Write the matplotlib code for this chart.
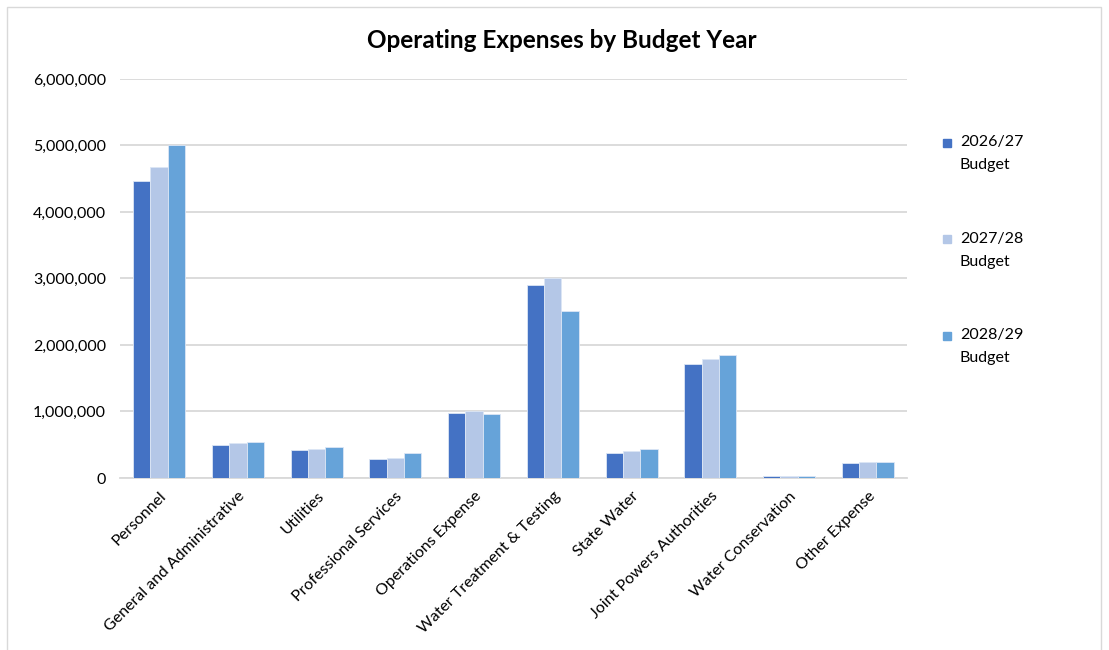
import numpy as np
import matplotlib.pyplot as plt
from matplotlib.patches import Rectangle
from matplotlib.ticker import FuncFormatter

plt.rcParams['font.family'] = ['Lato', 'DejaVu Sans']

# categories and series
categories = ["Personnel", "General and Administrative", "Utilities",
              "Professional Services", "Operations Expense",
              "Water Treatment & Testing", "State Water",
              "Joint Powers Authorities", "Water Conservation", "Other Expense"]
budget_2627 = [4470000, 500000, 420000, 290000, 970000, 2900000, 380000, 1720000, 30000, 230000]
budget_2728 = [4670000, 520000, 440000, 300000, 1000000, 3010000, 410000, 1790000, 25000, 235000]
budget_2829 = [5010000, 540000, 460000, 380000, 960000, 2510000, 430000, 1850000, 30000, 240000]
series_names = ["2026/27", "2027/28", "2028/29"]
colors = ["#4472C4", "#B4C7E7", "#66A3D9"]

fig = plt.figure(figsize=(11.09, 6.5), dpi=100)
ax = fig.add_axes([0.108, 0.2646, 0.71, 0.614])

x = np.arange(len(categories))
w = 0.22
for i, vals in enumerate([budget_2627, budget_2728, budget_2829]):
    ax.bar(x + (i - 1) * w, vals, width=w, color=colors[i],
           edgecolor="#DCE6F5", linewidth=0.6, zorder=3)

ax.set_xlim(-0.5, len(categories) - 0.5)
ax.set_ylim(0, 6000000)
ax.set_yticks(np.arange(0, 6000001, 1000000))
ax.yaxis.set_major_formatter(FuncFormatter(lambda v, p: f"{int(v):,}"))
ax.grid(axis="y", color="#D9D9D9", linewidth=1.3, zorder=0)
for s in ["top", "right", "left"]:
    ax.spines[s].set_visible(False)
ax.spines["bottom"].set_color("#D9D9D9")
ax.spines["bottom"].set_linewidth(1.3)
ax.tick_params(axis="both", length=0, labelsize=11.5, colors="black")
ax.tick_params(axis="y", pad=10)
ax.set_xticks(x)
ax.set_xticklabels(categories, rotation=45, ha="right", rotation_mode="anchor",
                   fontsize=11.5)
ax.tick_params(axis="x", pad=8)

fig.text(0.507, 0.938, "Operating Expenses by Budget Year", ha="center",
         va="center", fontsize=17.5, fontweight="bold")

# legend
leg_y = [0.782, 0.633, 0.485]
for name, c, yy in zip(series_names, colors, leg_y):
    fig.patches.append(Rectangle((0.8505, yy - 0.0075), 0.0072, 0.0123,
                                 transform=fig.transFigure, color=c))
    fig.text(0.866, yy, name, ha="left", va="center", fontsize=11.5)
    fig.text(0.8655, yy - 0.036, "Budget", ha="left", va="center", fontsize=11.5)

# chart border
fig.patches.append(Rectangle((0.0063, -0.01), 0.9865, 1.0, transform=fig.transFigure,
                             fill=False, edgecolor="#D9D9D9", linewidth=1))

fig.savefig("out.png", dpi=100)
